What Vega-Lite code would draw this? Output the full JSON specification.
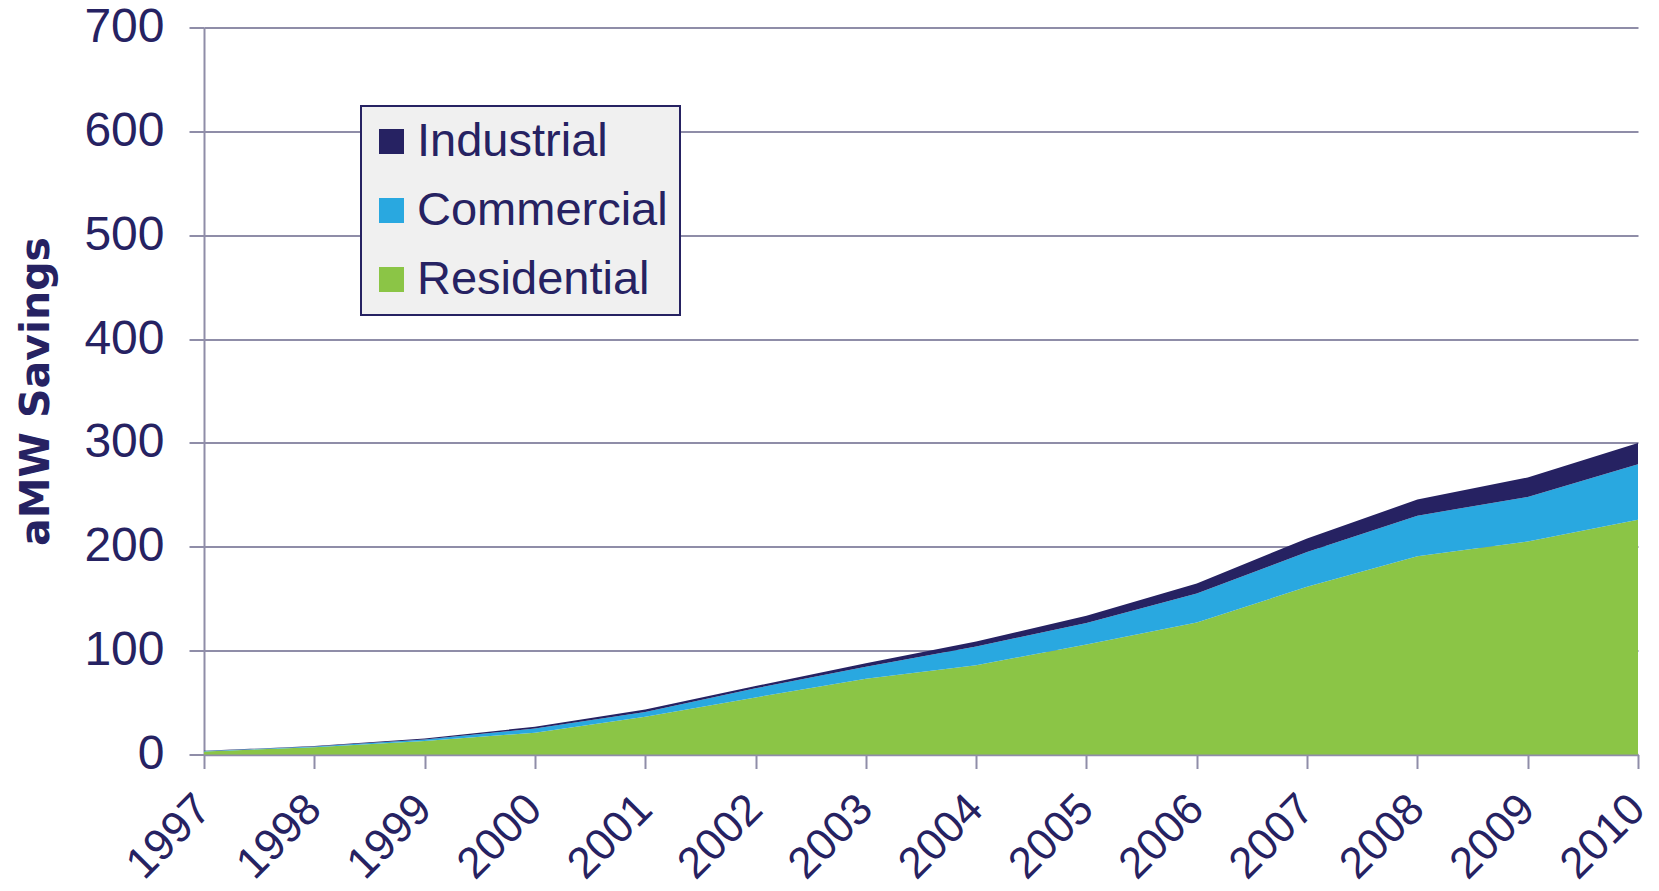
{
  "$schema": "https://vega.github.io/schema/vega-lite/v6.json",
  "width": 1434,
  "height": 727,
  "autosize": "none",
  "padding": {"left": 204, "top": 27.5, "right": 21, "bottom": 136.5},
  "background": "white",
  "data": {
    "values": [
      {"Year": 1997, "Sector": "Residential", "aMW": 3},
      {"Year": 1997, "Sector": "Commercial", "aMW": 0.3},
      {"Year": 1997, "Sector": "Industrial", "aMW": 0.2},
      {"Year": 1998, "Sector": "Residential", "aMW": 7},
      {"Year": 1998, "Sector": "Commercial", "aMW": 0.7},
      {"Year": 1998, "Sector": "Industrial", "aMW": 0.4},
      {"Year": 1999, "Sector": "Residential", "aMW": 13},
      {"Year": 1999, "Sector": "Commercial", "aMW": 1.5},
      {"Year": 1999, "Sector": "Industrial", "aMW": 1},
      {"Year": 2000, "Sector": "Residential", "aMW": 21},
      {"Year": 2000, "Sector": "Commercial", "aMW": 4},
      {"Year": 2000, "Sector": "Industrial", "aMW": 1.7},
      {"Year": 2001, "Sector": "Residential", "aMW": 36.3},
      {"Year": 2001, "Sector": "Commercial", "aMW": 4.7},
      {"Year": 2001, "Sector": "Industrial", "aMW": 2.4},
      {"Year": 2002, "Sector": "Residential", "aMW": 55},
      {"Year": 2002, "Sector": "Commercial", "aMW": 8.7},
      {"Year": 2002, "Sector": "Industrial", "aMW": 2.3},
      {"Year": 2003, "Sector": "Residential", "aMW": 73},
      {"Year": 2003, "Sector": "Commercial", "aMW": 11.6},
      {"Year": 2003, "Sector": "Industrial", "aMW": 3.2},
      {"Year": 2004, "Sector": "Residential", "aMW": 86},
      {"Year": 2004, "Sector": "Commercial", "aMW": 18},
      {"Year": 2004, "Sector": "Industrial", "aMW": 4.7},
      {"Year": 2005, "Sector": "Residential", "aMW": 106},
      {"Year": 2005, "Sector": "Commercial", "aMW": 20.5},
      {"Year": 2005, "Sector": "Industrial", "aMW": 7},
      {"Year": 2006, "Sector": "Residential", "aMW": 127},
      {"Year": 2006, "Sector": "Commercial", "aMW": 28},
      {"Year": 2006, "Sector": "Industrial", "aMW": 9.7},
      {"Year": 2007, "Sector": "Residential", "aMW": 161.5},
      {"Year": 2007, "Sector": "Commercial", "aMW": 33.5},
      {"Year": 2007, "Sector": "Industrial", "aMW": 13},
      {"Year": 2008, "Sector": "Residential", "aMW": 191},
      {"Year": 2008, "Sector": "Commercial", "aMW": 39},
      {"Year": 2008, "Sector": "Industrial", "aMW": 15.5},
      {"Year": 2009, "Sector": "Residential", "aMW": 205},
      {"Year": 2009, "Sector": "Commercial", "aMW": 43},
      {"Year": 2009, "Sector": "Industrial", "aMW": 18.7},
      {"Year": 2010, "Sector": "Residential", "aMW": 226},
      {"Year": 2010, "Sector": "Commercial", "aMW": 53.5},
      {"Year": 2010, "Sector": "Industrial", "aMW": 20.5}
    ]
  },
  "transform": [
    {"calculate": "indexof(['Residential', 'Commercial', 'Industrial'], datum.Sector)", "as": "stackOrder"}
  ],
  "mark": {"type": "area", "opacity": 1},
  "encoding": {
    "x": {
      "field": "Year",
      "type": "ordinal",
      "scale": {"type": "point", "padding": 0},
      "axis": {
        "title": null,
        "labelAngle": -45,
        "labelFont": "Liberation Sans",
        "labelFontSize": 44,
        "labelColor": "#262262",
        "labelPadding": 18,
        "labelOffset": -16,
        "labelOverlap": false,
        "domainColor": "#8f8da8",
        "domainWidth": 2.5,
        "tickColor": "#8f8da8",
        "tickWidth": 2,
        "tickSize": 14,
        "grid": false
      }
    },
    "y": {
      "field": "aMW",
      "type": "quantitative",
      "stack": "zero",
      "scale": {"domain": [0, 700], "nice": false},
      "axis": {
        "title": "aMW Savings",
        "titleFont": "DejaVu Sans",
        "titleFontWeight": "bold",
        "titleFontSize": 41,
        "titleColor": "#262262",
        "titlePadding": 26,
        "values": [0, 100, 200, 300, 400, 500, 600, 700],
        "labelFont": "Liberation Sans",
        "labelFontSize": 48,
        "labelColor": "#262262",
        "labelPadding": 25,
        "domainColor": "#8f8da8",
        "domainWidth": 2,
        "tickColor": "#8f8da8",
        "tickWidth": 2,
        "tickSize": 15,
        "grid": true,
        "gridColor": "#8f8da8",
        "gridWidth": 2
      }
    },
    "order": {"field": "stackOrder", "type": "quantitative"},
    "color": {
      "field": "Sector",
      "type": "nominal",
      "sort": ["Industrial", "Commercial", "Residential"],
      "scale": {
        "domain": ["Industrial", "Commercial", "Residential"],
        "range": ["#262262", "#29a8e0", "#8bc546"]
      },
      "legend": {
        "title": null,
        "orient": "none",
        "legendX": 157,
        "legendY": 78.5,
        "fillColor": "#f0f0f0",
        "strokeColor": "#262262",
        "padding": 12,
        "symbolOffset": -5,
        "symbolType": "square",
        "symbolSize": 625,
        "symbolStrokeWidth": 0,
        "symbolOpacity": 1,
        "labelFont": "Liberation Sans",
        "labelFontSize": 47,
        "labelColor": "#262262",
        "labelOffset": 2,
        "rowPadding": 21,
        "labelLimit": 400,
        "encode": {"legend": {"update": {"strokeWidth": {"value": 2}}}}
      }
    }
  },
  "config": {"view": {"stroke": null}}
}
